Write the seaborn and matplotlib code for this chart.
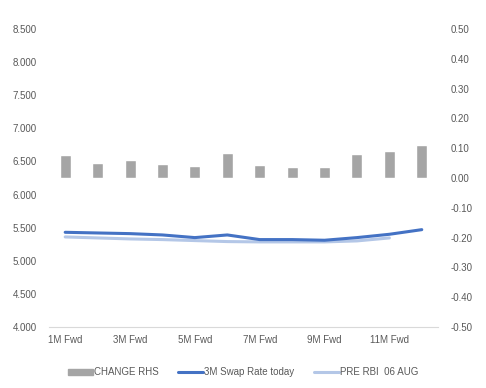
import pandas as pd
import numpy as np
import seaborn as sns
import matplotlib.pyplot as plt
from matplotlib.patches import Patch
from matplotlib.lines import Line2D

# Dados
meses = ['1M Fwd', '2M Fwd', '3M Fwd', '4M Fwd', '5M Fwd', '6M Fwd',
         '7M Fwd', '8M Fwd', '9M Fwd', '10M Fwd', '11M Fwd', '12M Fwd']
swap_hoje = [5.43, 5.42, 5.41, 5.39, 5.35, 5.39, 5.32, 5.32, 5.31, 5.35, 5.40, 5.47]
pre_rbi = [5.36, 5.345, 5.33, 5.32, 5.305, 5.29, 5.285, 5.285, 5.285, 5.30, 5.345]
mudanca = [0.077, 0.05, 0.06, 0.047, 0.04, 0.084, 0.044, 0.037, 0.037, 0.08, 0.09, 0.11]

df = pd.DataFrame({'pos': np.arange(len(meses)), 'mes': meses,
                   'swap': swap_hoje, 'mudanca': mudanca})
df_pre = pd.DataFrame({'pos': np.arange(len(pre_rbi)), 'pre': pre_rbi})

sns.set_style('white')
plt.rcParams['font.family'] = ['Liberation Sans', 'DejaVu Sans']

cinza_txt = '#595959'
cor_barra = '#A5A5A5'
azul = '#4472C4'
azul_claro = '#B4C7E7'

fig = plt.figure(figsize=(4.86, 3.88), dpi=100)
ax = fig.add_axes([0.1008, 0.1572, 0.8004, 0.7681])
ax2 = ax.twinx()

# Linhas no eixo esquerdo
sns.lineplot(data=df_pre, x='pos', y='pre', ax=ax, color=azul_claro, linewidth=2.2)
sns.lineplot(data=df, x='pos', y='swap', ax=ax, color=azul, linewidth=2.2)

# Barras no eixo direito
ax2.bar(df['pos'], df['mudanca'], width=0.34, color=cor_barra)

ax.set_xlim(-0.5, len(meses) - 0.5)
ax.set_ylim(4.0, 8.5)
ax2.set_ylim(-0.5, 0.5)
ticks_esq = np.round(np.arange(4.0, 8.51, 0.5), 3)
ticks_dir = np.round(np.arange(-0.5, 0.51, 0.1), 2) + 0.0
ax.set_yticks(ticks_esq)
ax.set_yticklabels([f'{v:.3f}' for v in ticks_esq])
ax2.set_yticks(ticks_dir)
ax2.set_yticklabels([f'{abs(v):.2f}' if abs(v) < 1e-9 else f'{v:.2f}' for v in ticks_dir])

# Rótulos a cada dois meses, traços nos limites das categorias
ax.set_xticks(df['pos'][::2])
ax.set_xticklabels(meses[::2])
ax.set_xticks(np.arange(-0.5, len(meses)), minor=True)
ax.tick_params(axis='x', which='major', length=0, labelsize=7, colors=cinza_txt, pad=6)
ax.tick_params(axis='x', which='minor', length=4, color='#D9D9D9', width=0.8)
ax.tick_params(axis='y', length=0, labelsize=7, colors=cinza_txt, pad=9)
ax2.tick_params(axis='y', length=0, labelsize=7, colors=cinza_txt, pad=9)
ax.set_xlabel('')
ax.set_ylabel('')
ax2.set_ylabel('')

for a in (ax, ax2):
    for s in ['top', 'left', 'right']:
        a.spines[s].set_visible(False)
    a.spines['bottom'].set_color('#D9D9D9')
    a.spines['bottom'].set_linewidth(0.8)
ax2.spines['bottom'].set_visible(False)

handles = [Patch(color=cor_barra),
           Line2D([0], [0], color=azul, linewidth=2.2),
           Line2D([0], [0], color=azul_claro, linewidth=2.2)]
rotulos = ['CHANGE RHS', '3M Swap Rate today', 'PRE RBI  06 AUG']
fig.legend(handles, rotulos, loc='center', bbox_to_anchor=(0.5, 0.04), ncol=3,
           frameon=False, fontsize=7, labelcolor=cinza_txt, handlelength=2.6,
           handleheight=0.6, handletextpad=0.1, columnspacing=2.0)

fig.savefig('out.png', dpi=100)
